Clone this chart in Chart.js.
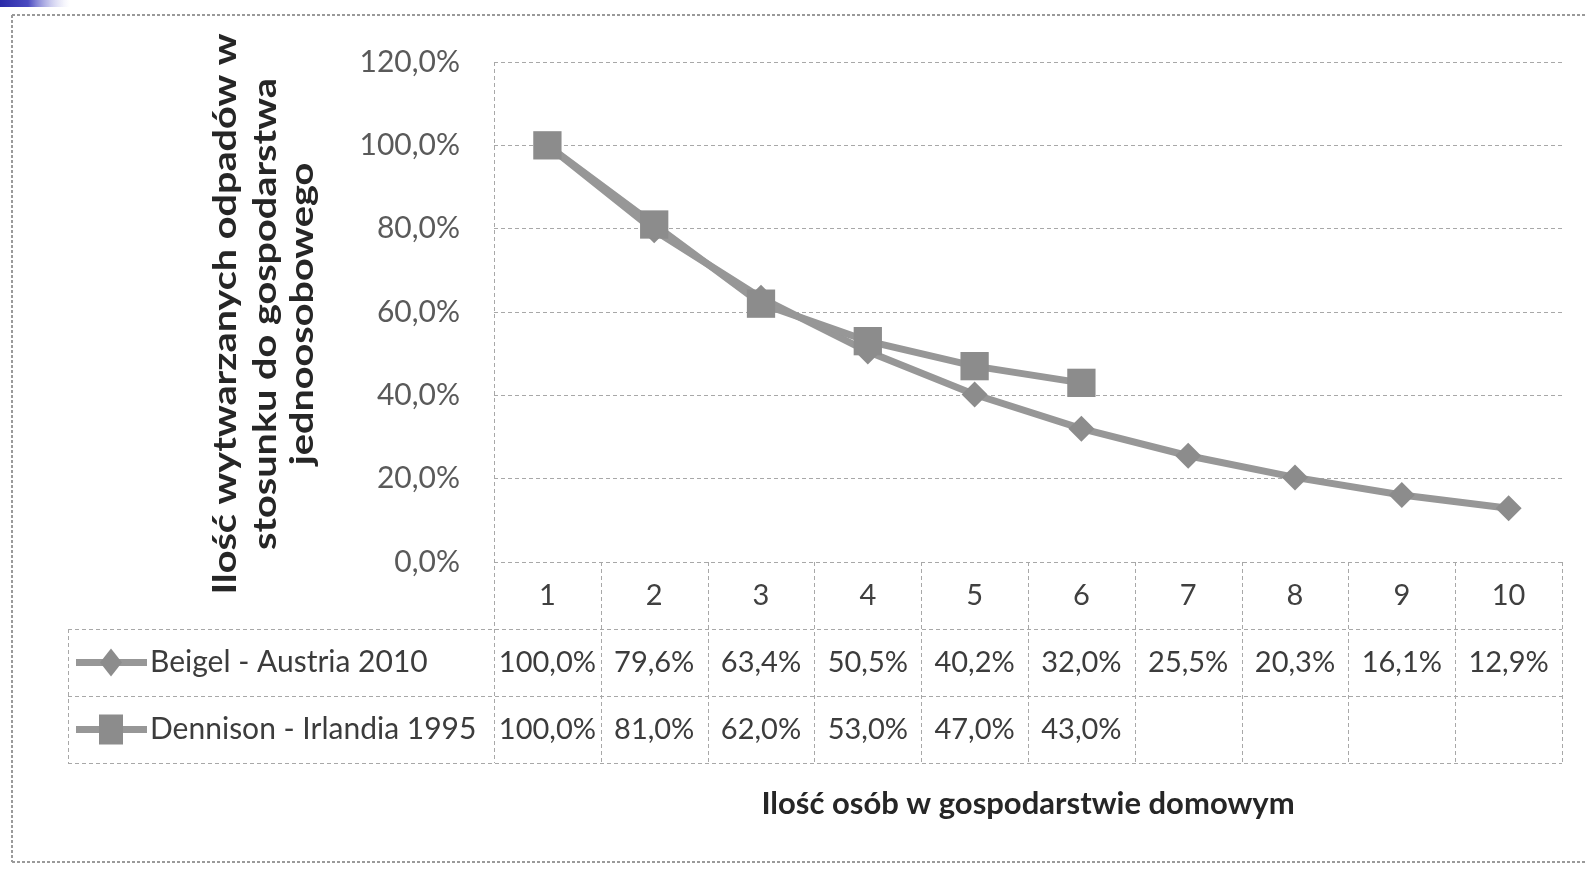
<!DOCTYPE html>
<html><head><meta charset="utf-8">
<script src="https://cdn.jsdelivr.net/npm/chart.js@4/dist/chart.umd.min.js"></script>
<style>html,body{margin:0;padding:0;background:#fff;overflow:hidden}</style>
</head><body>
<canvas id="c" width="1585" height="873" style="width:1585px;height:873px;display:block"></canvas>
<script>
const categories = ['1','2','3','4','5','6','7','8','9','10'];
const beigelLabel = 'Beigel - Austria 2010';
const beigelValues = [1.000, 0.796, 0.634, 0.505, 0.402, 0.320, 0.255, 0.203, 0.161, 0.129];
const dennisonLabel = 'Dennison - Irlandia 1995';
const dennisonValues = [1.00, 0.81, 0.62, 0.53, 0.47, 0.43, null, null, null, null];
const yTickValues = [0, 0.2, 0.4, 0.6, 0.8, 1.0, 1.2];
const yTitleLines = ['Ilość wytwarzanych odpadów w', 'stosunku do gospodarstwa', 'jednoosobowego'];
const xTitle = 'Ilość osób w gospodarstwie domowym';

const FONT = 'Lato, "Open Sans", sans-serif';
const LINE_COLOR = '#979797';
const MARK_COLOR = '#8c8c8c';
const GRID_COLOR = '#a8a8a8';
const fmt = v => (v * 100).toFixed(1).replace('.', ',') + '%';

const ROW_H = 67;
const TABLE_LEFT = 68;

const tablePlugin = {
  id: 'tablePlugin',
  afterDraw(chart) {
    const ctx = chart.ctx;
    const ca = chart.chartArea;
    const xs = chart.scales.x;
    const cw = (ca.right - ca.left) / categories.length;
    const r0 = ca.bottom, r1 = r0 + ROW_H, r2 = r1 + ROW_H, r3 = r2 + ROW_H;
    ctx.save();
    ctx.strokeStyle = GRID_COLOR;
    ctx.lineWidth = 1;
    ctx.setLineDash([4, 3]);
    const line = (x1, y1, x2, y2) => { ctx.beginPath(); ctx.moveTo(x1, y1); ctx.lineTo(x2, y2); ctx.stroke(); };
    line(ca.left + 0.5, ca.top, ca.left + 0.5, r3);
    for (let i = 1; i <= categories.length; i++) {
      const bx = Math.round(ca.left + i * cw) + 0.5;
      line(bx, r0, bx, r3);
    }
    line(TABLE_LEFT + 0.5, r1, TABLE_LEFT + 0.5, r3);
    line(ca.left, r0 + 0.5, ca.right, r0 + 0.5);
    line(TABLE_LEFT, r1 + 0.5, ca.right, r1 + 0.5);
    line(TABLE_LEFT, r2 + 0.5, ca.right, r2 + 0.5);
    line(TABLE_LEFT, r3 + 0.5, ca.right, r3 + 0.5);
    ctx.setLineDash([]);

    const rows = [
      { label: beigelLabel, values: beigelValues, style: 'diamond', yc: (r1 + r2) / 2 },
      { label: dennisonLabel, values: dennisonValues, style: 'square', yc: (r2 + r3) / 2 }
    ];
    rows.forEach(r => {
      ctx.strokeStyle = LINE_COLOR;
      ctx.lineWidth = 7;
      line(76, r.yc, 147, r.yc);
      ctx.fillStyle = MARK_COLOR;
      const mx = 111;
      if (r.style === 'diamond') {
        ctx.beginPath();
        ctx.moveTo(mx, r.yc - 14); ctx.lineTo(mx + 11, r.yc); ctx.lineTo(mx, r.yc + 14); ctx.lineTo(mx - 11, r.yc); ctx.closePath(); ctx.fill();
      } else {
        ctx.fillRect(mx - 12, r.yc - 15, 24, 30);
      }
      ctx.fillStyle = '#3c3c3c';
      ctx.font = '30px ' + FONT;
      ctx.textAlign = 'left';
      ctx.textBaseline = 'middle';
      ctx.fillText(r.label, 150, r.yc);
      ctx.font = '29px ' + FONT;
      ctx.textAlign = 'center';
      r.values.forEach((v, i) => {
        if (v === null) return;
        ctx.fillText(fmt(v), xs.getPixelForValue(i), r.yc);
      });
    });

    // y title (stretched along its length like the reference)
    ctx.fillStyle = '#262626';
    ctx.font = 'bold 33px ' + FONT;
    ctx.textAlign = 'center';
    ctx.textBaseline = 'middle';
    const cy = (ca.top + ca.bottom) / 2 + 2;
    const cx = 265;
    ctx.save();
    ctx.translate(cx, cy);
    ctx.rotate(-Math.PI / 2);
    ctx.scale(1.2, 1);
    const offs = [-40, 0, 37];
    yTitleLines.forEach((t, i) => ctx.fillText(t, 0, offs[i]));
    ctx.restore();

    // x title
    ctx.fillStyle = '#262626';
    ctx.font = 'bold 31px ' + FONT;
    ctx.fillText(xTitle, (ca.left + ca.right) / 2, 804);

    // outer border
    ctx.strokeStyle = '#9a9a9a';
    ctx.lineWidth = 2;
    ctx.setLineDash([3, 2]);
    line(12, 15, 1585, 15);
    line(12, 15, 12, 862);
    line(12, 862, 1585, 862);
    ctx.setLineDash([]);

    // blue corner bar
    const g = ctx.createLinearGradient(0, 0, 70, 0);
    g.addColorStop(0, '#2a2aa8');
    g.addColorStop(0.4, '#4a4ac0');
    g.addColorStop(1, 'rgba(200,200,240,0)');
    ctx.fillStyle = g;
    ctx.fillRect(0, 0, 70, 7);
    ctx.restore();
  }
};

new Chart(document.getElementById('c'), {
  type: 'line',
  data: {
    labels: categories,
    datasets: [
      {
        label: beigelLabel,
        data: beigelValues,
        order: 1,
        borderColor: LINE_COLOR,
        borderWidth: 7,
        pointStyle: 'rectRot',
        pointRadius: 13,
        pointBackgroundColor: MARK_COLOR,
        pointBorderColor: MARK_COLOR,
        pointBorderWidth: 0,
        tension: 0
      },
      {
        label: dennisonLabel,
        data: dennisonValues,
        order: 0,
        borderColor: LINE_COLOR,
        borderWidth: 7,
        pointStyle: 'rect',
        pointRadius: 20,
        pointBackgroundColor: MARK_COLOR,
        pointBorderColor: MARK_COLOR,
        pointBorderWidth: 0,
        tension: 0,
        spanGaps: false
      }
    ]
  },
  options: {
    responsive: false,
    animation: false,
    devicePixelRatio: 1,
    layout: { padding: { left: 0, top: 62, right: 23, bottom: 0 } },
    plugins: { legend: { display: false }, tooltip: { enabled: false } },
    scales: {
      x: {
        type: 'category',
        offset: true,
        grid: { display: false, drawTicks: false },
        border: { display: false },
        ticks: { padding: 16, color: '#404040', font: { family: FONT, size: 29 }, maxRotation: 0, autoSkip: false },
        afterFit: s => { s.height = 873 - 562; }
      },
      y: {
        min: 0,
        max: 1.2,
        afterBuildTicks: s => { s.ticks = yTickValues.map(v => ({ value: v })); },
        grid: { color: GRID_COLOR, lineWidth: 1, drawTicks: false },
        border: { display: false, dash: [4, 3] },
        ticks: { padding: 34, color: '#5a5a5a', font: { family: FONT, size: 30 }, callback: v => fmt(v) },
        afterFit: s => { s.width = 494; }
      }
    }
  },
  plugins: [tablePlugin]
});
</script>
</body></html>
